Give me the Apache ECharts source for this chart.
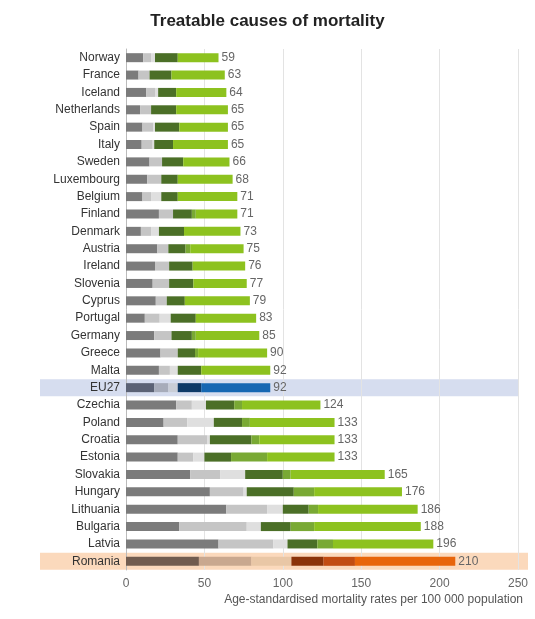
<!DOCTYPE html><html><head><meta charset="utf-8"><script src="https://cdn.jsdelivr.net/npm/echarts@6/dist/echarts.min.js"></script>
<style>body{margin:0;background:#fff}#c{width:535px;height:619px}</style></head><body><div id="c"></div><script>
const categories=['Norway','France','Iceland','Netherlands','Spain','Italy','Sweden','Luxembourg','Belgium','Finland','Denmark','Austria','Ireland','Slovenia','Cyprus','Portugal','Germany','Greece','Malta','EU27','Czechia','Poland','Croatia','Estonia','Slovakia','Hungary','Lithuania','Bulgaria','Latvia','Romania'];
// cumulative end positions of each segment
const end1=[11,8,13,9,10.5,10,15,13.5,10.5,21,9.5,20,18.5,17,19,12,18,22,21,18,32,24,33,33,41,53.5,64,34,59,46.5];
const end2=[16,15,18.5,16,17.5,17,23,22.5,16,30,16,27,27.5,27.5,26,21.5,29,33,28,27,42,39,52,43,60,75,90,77,94,80];
const end3=[18.5,15,20.5,16,18.5,18,23,22.5,22.5,30,21,27,27.5,27.5,26,28.5,29,33,33,33,51,56,53.5,50,76,77,100,86,103,105.5];
const end4=[33,29,32,32,34,30,36.5,33,33,42,37,38,42.5,43,37.5,44.5,42,44,48,48,69,74,80,67,100,107,116.5,105,122,126];
const end5=[33,29,32,32,34,30,36.5,33,33,44.5,37,41,42.5,43,37.5,44.5,44.5,46,48,48,74,79,85,90,105,120,122.5,120,132,146];
const totals=[59,63,64,65,65,65,66,68,71,71,73,75,76,77,79,83,85,90,92,92,124,133,133,133,165,176,186,188,196,210];
const xTicks=[0,50,100,150,200,250];
const ends=[end1,end2,end3,end4,end5,totals];
const pal=['#7b7b7b','#c5c5c5','#dfdfdf','#4b6f27','#79a934','#8dc21f'];
const palEU=['#5b6275','#a7acba','#c9cdd6','#0e3a68','#1a5e9e','#1667b2'];
const palRO=['#715c4f','#c9a88f','#e9c7a6','#8b3309','#c24c12','#e8650b'];
const series=ends.map((e,k)=>({type:'bar',stack:'a',barWidth:9,
 data:e.map((v,i)=>{const w=+(v-(k?ends[k-1][i]:0)).toFixed(2);const c=categories[i];
  return {value:w,itemStyle:{color:c==='EU27'?palEU[k]:c==='Romania'?palRO[k]:pal[k]}};}),
 label:k===5?{show:true,position:'right',formatter:p=>totals[p.dataIndex],color:'#666',fontSize:12,distance:3}:{show:false},
 silent:true}));
const ch=echarts.init(document.getElementById('c'));
ch.setOption({animation:false,
 title:{text:'Treatable causes of mortality',left:'center',top:8,textStyle:{fontSize:17,fontWeight:'bold',color:'#222'}},
 grid:{left:126,right:17,top:49,bottom:49},
 xAxis:{type:'value',min:0,max:250,interval:50,axisLine:{show:false},axisTick:{show:false},
  splitLine:{lineStyle:{color:'#e3e3e3'}},axisLabel:{color:'#666',fontSize:12,formatter:v=>xTicks.includes(v)?v:''},
  name:'Age-standardised mortality rates per 100 000 population',nameLocation:'end',nameGap:0,
  nameTextStyle:{color:'#555',fontSize:12,align:'right',verticalAlign:'top',padding:[24,-5,0,0]}},
 yAxis:{type:'category',inverse:true,data:categories,axisTick:{show:false},axisLine:{lineStyle:{color:'#bbb'}},
  axisLabel:{color:'#333',fontSize:12,margin:6}},
 series});
const yEU=ch.convertToPixel({yAxisIndex:0},'EU27'),yRO=ch.convertToPixel({yAxisIndex:0},'Romania');
const h=17;
ch.setOption({graphic:[
 {type:'rect',z:-10,shape:{x:40,y:yEU-h/2,width:478,height:h},style:{fill:'#d6ddef'}},
 {type:'rect',z:-10,shape:{x:40,y:yRO-h/2,width:488,height:h},style:{fill:'#fbd9bc'}}]});
</script></body></html>
